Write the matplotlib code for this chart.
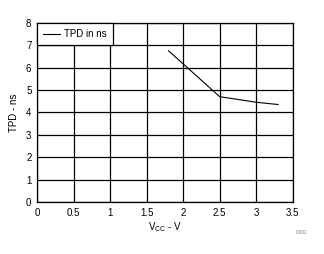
import matplotlib.pyplot as plt

plt.rcParams['font.family'] = ['Liberation Sans', 'DejaVu Sans']

vcc = [1.8, 2.5, 3.0, 3.3]
tpd = [6.75, 4.70, 4.45, 4.35]
xticks = [0, 0.5, 1, 1.5, 2, 2.5, 3, 3.5]
yticks = [0, 1, 2, 3, 4, 5, 6, 7, 8]

fig = plt.figure(figsize=(3.24, 2.54), dpi=100)
ax = fig.add_axes([37 / 324, 1 - 202 / 254, (292.7 - 37) / 324, (202 - 22.7) / 254])

ax.plot(vcc, tpd, color='black', linewidth=0.8, label='TPD in ns')
ax.set_xlim(0, 3.5)
ax.set_ylim(0, 8)
ax.set_xticks(xticks)
ax.set_xticklabels(['0', '0.5', '1', '1.5', '2', '2.5', '3', '3.5'])
ax.set_yticks(yticks)
ax.grid(True, color='black', linewidth=0.9)
for s in ax.spines.values():
    s.set_linewidth(0.9)
ax.tick_params(length=0, labelsize=7, pad=4)
ax.set_xlabel('V$_{\\mathregular{CC}}$ - V', fontsize=7, labelpad=2)
ax.set_ylabel('TPD - ns', fontsize=7, labelpad=5)

leg = ax.legend(loc='upper left', bbox_to_anchor=(0, 1), borderaxespad=0,
                fontsize=7, frameon=True, fancybox=False, framealpha=1,
                edgecolor='black', handlelength=1.75, handletextpad=0.35,
                borderpad=0.65)
leg.get_frame().set_linewidth(0.9)

fig.text(302 / 324, 1 - 233 / 254, 'D002', fontsize=3.5, color='#888888',
         ha='center', va='center')

fig.savefig('out.png', dpi=100)
